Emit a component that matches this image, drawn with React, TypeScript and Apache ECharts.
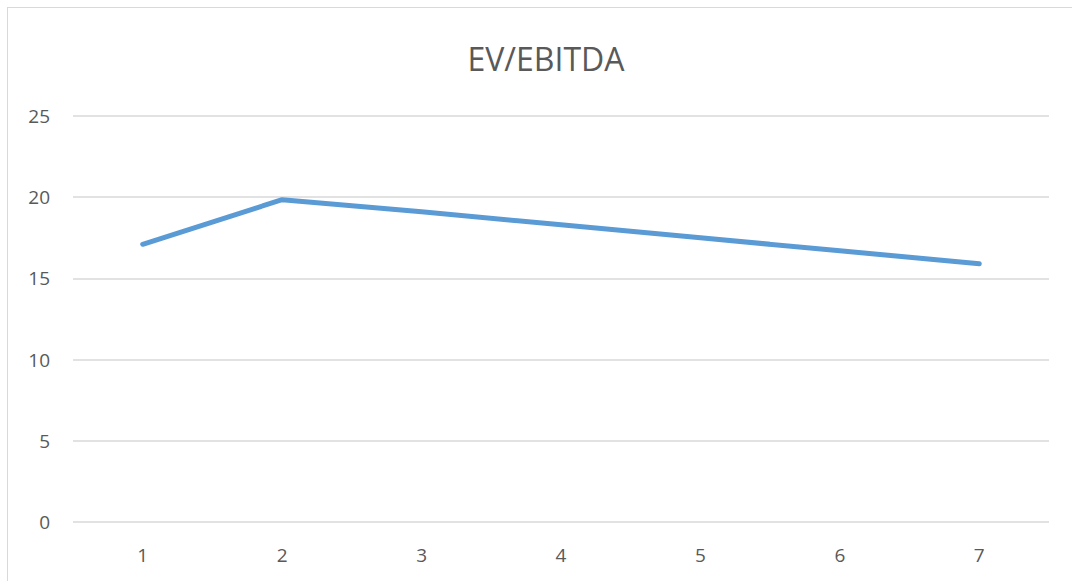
import React, { useEffect, useRef } from "react";
import * as echarts from "echarts";

const categories = ["1", "2", "3", "4", "5", "6", "7"];
const evEbitda = [17.1, 19.85, 19.1, 18.3, 17.5, 16.7, 15.9];
const chartTitle = "EV/EBITDA";

export default function App() {
  const ref = useRef<HTMLDivElement>(null);
  useEffect(() => {
    if (!ref.current) return;
    const chart = echarts.init(ref.current, null, { renderer: "svg" });
    const font = "'Open Sans', 'Liberation Sans', sans-serif";
    chart.setOption({
      animation: false,
      backgroundColor: "#ffffff",
      graphic: [
        {
          type: "text",
          x: 538,
          y: 50,
          style: {
            text: chartTitle,
            fill: "#595959",
            font: `32px ${font}`,
            textAlign: "center",
            textVerticalAlign: "middle",
          },
        },
      ],
      grid: { left: 65, right: 23, top: 108, height: 406, containLabel: false },
      xAxis: {
        type: "category",
        data: categories,
        boundaryGap: true,
        axisLine: { show: false },
        axisTick: { show: false },
        axisLabel: { color: "#595959", fontSize: 19, fontFamily: font, margin: 23 },
      },
      yAxis: {
        type: "value",
        min: 0,
        max: 25,
        interval: 5,
        axisLine: { show: false },
        axisTick: { show: false },
        axisLabel: { color: "#595959", fontSize: 19, fontFamily: font, margin: 23 },
        splitLine: { lineStyle: { color: "#d9d9d9", width: 1.5 } },
      },
      series: [
        {
          type: "line",
          data: evEbitda,
          showSymbol: false,
          symbol: "none",
          lineStyle: { color: "#5b9bd5", width: 5, cap: "round", join: "round" },
        },
      ],
    });
    return () => chart.dispose();
  }, []);
  return (
    <div
      style={{
        position: "fixed",
        left: 7,
        top: 7,
        borderLeft: "1px solid #d9d9d9",
        borderTop: "1px solid #d9d9d9",
        background: "#fff",
      }}
    >
      <div ref={ref} style={{ width: 1064, height: 573 }} />
    </div>
  );
}
